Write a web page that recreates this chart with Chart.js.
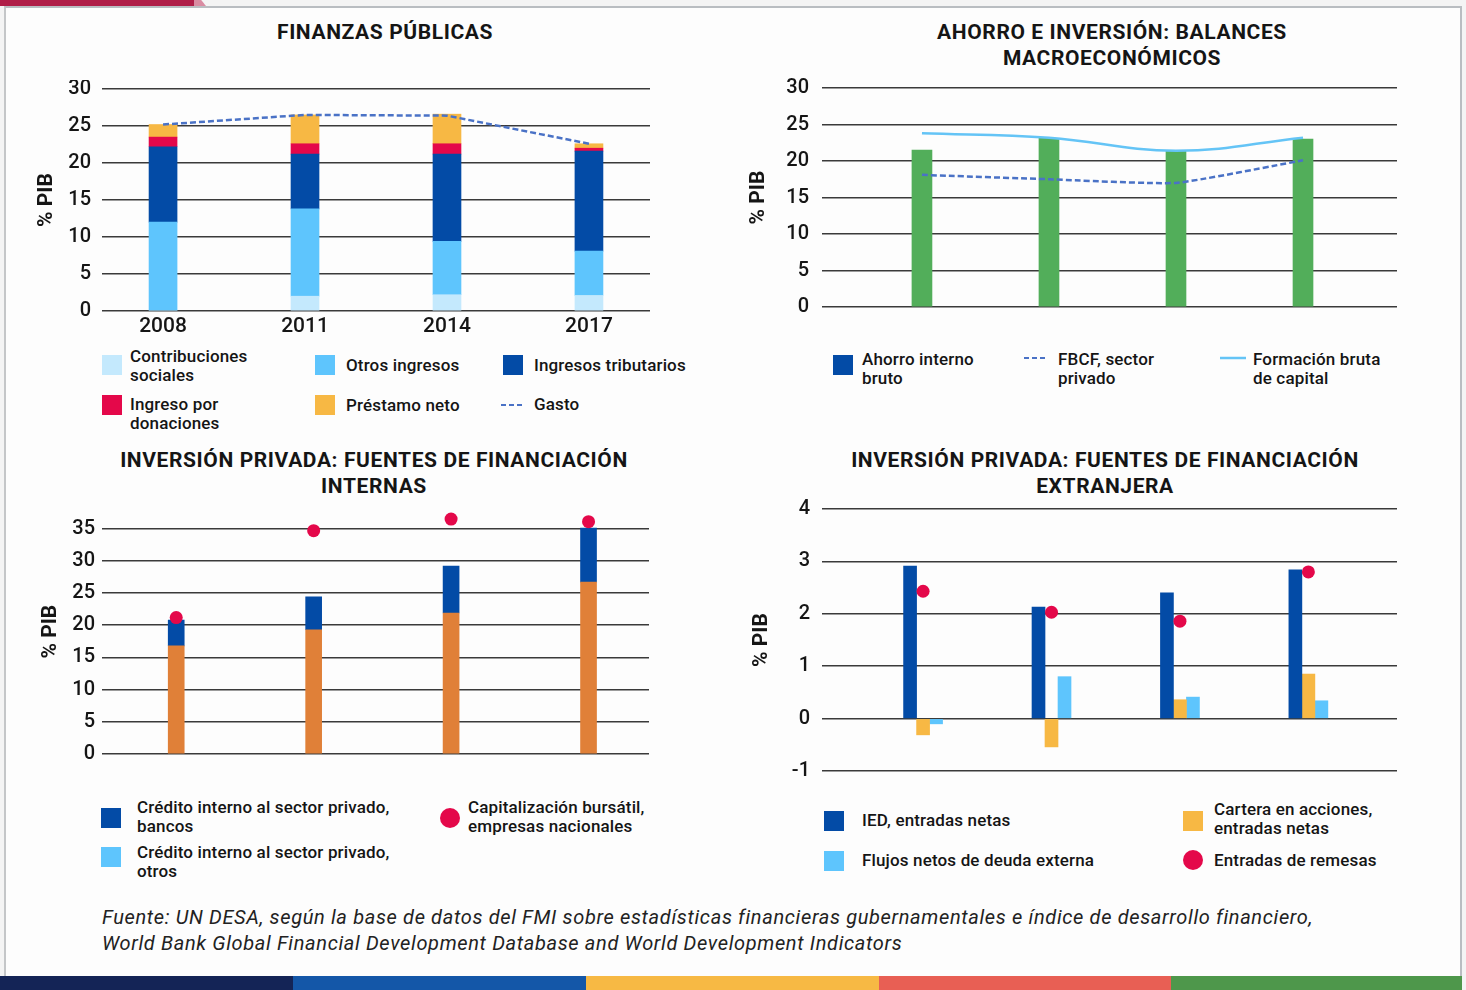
<!DOCTYPE html>
<html lang="es">
<head>
<meta charset="utf-8">
<title>Finanzas públicas e inversión privada</title>
<script src="https://cdn.jsdelivr.net/npm/chart.js@4.4.0/dist/chart.umd.min.js"></script>
<style>
  html, body { margin: 0; padding: 0; }
  body { width: 1466px; height: 990px; position: relative; overflow: hidden; background: #f4f4f4; font-family: Roboto, sans-serif; color: #151515; }
  .franja-roja { position: absolute; left: 0; top: 0; width: 194px; height: 6px; background: #b01e48; }
  .franja-rosa { position: absolute; left: 190px; top: 0; width: 16px; height: 6px; background: #d98ca2; clip-path: polygon(0 0, 70% 0, 100% 100%, 0 100%); }
  .tarjeta { position: absolute; left: 4px; top: 6px; width: 1454px; height: 972px; background: #fdfdfd; border-top: 2px solid #b9bdc1; border-left: 2px solid #c4c6c8; border-right: 2px solid #b9bdc1; }
  canvas { position: absolute; }
  .titulo { position: absolute; font-weight: 700; font-size: 21px; letter-spacing: 0.6px; line-height: 26px; text-align: center; transform: translateX(-50%); white-space: nowrap; }
  .ley { position: absolute; font-size: 17px; font-weight: 500; letter-spacing: 0.15px; line-height: 19px; white-space: nowrap; }
  .caja { position: absolute; width: 20px; height: 20px; }
  .punto { position: absolute; width: 20px; height: 20px; border-radius: 50%; background: #e4084a; }
  .fuente { position: absolute; left: 102px; top: 904px; font-size: 20px; letter-spacing: 0.65px; line-height: 26px; font-style: italic; color: #222; white-space: nowrap; }
  .barra-color { position: absolute; top: 976px; height: 14px; }
</style>
</head>
<body>
<div class="franja-rosa"></div>
<div class="franja-roja"></div>
<div class="tarjeta"></div>

<!-- Títulos -->
<div class="titulo" style="left:385px; top:19px;">FINANZAS PÚBLICAS</div>
<div class="titulo" style="left:1112px; top:19px;">AHORRO E INVERSIÓN: BALANCES<br>MACROECONÓMICOS</div>
<div class="titulo" style="left:374px; top:447px;">INVERSIÓN PRIVADA: FUENTES DE FINANCIACIÓN<br>INTERNAS</div>
<div class="titulo" style="left:1105px; top:447px;">INVERSIÓN PRIVADA: FUENTES DE FINANCIACIÓN<br>EXTRANJERA</div>

<canvas id="finanzasChart" width="630" height="265" style="left:30px; top:80px;"></canvas>
<canvas id="ahorroChart" width="668" height="250" style="left:742px; top:75px;"></canvas>
<canvas id="internasChart" width="626" height="275" style="left:34px; top:500px;"></canvas>
<canvas id="externaChart" width="665" height="290" style="left:745px; top:495px;"></canvas>

<!-- Leyenda: finanzas públicas -->
<div class="caja" style="left:102px; top:355px; background:#c4e9fd;"></div>
<div class="ley" style="left:130px; top:347px;">Contribuciones<br>sociales</div>
<div class="caja" style="left:315px; top:355px; background:#5ec5fd;"></div>
<div class="ley" style="left:346px; top:356px;">Otros ingresos</div>
<div class="caja" style="left:503px; top:355px; background:#034ba6;"></div>
<div class="ley" style="left:534px; top:356px;">Ingresos tributarios</div>
<div class="caja" style="left:102px; top:395px; background:#e4084a;"></div>
<div class="ley" style="left:130px; top:395px;">Ingreso por<br>donaciones</div>
<div class="caja" style="left:315px; top:395px; background:#f7b844;"></div>
<div class="ley" style="left:346px; top:396px;">Préstamo neto</div>
<svg style="position:absolute; left:501px; top:400px;" width="24" height="10"><line x1="0" y1="5" x2="24" y2="5" stroke="#4a72c6" stroke-width="2" stroke-dasharray="5 3"/></svg>
<div class="ley" style="left:534px; top:395px;">Gasto</div>

<!-- Leyenda: ahorro e inversión -->
<div class="caja" style="left:833px; top:355px; background:#034ba6;"></div>
<div class="ley" style="left:862px; top:350px;">Ahorro interno<br>bruto</div>
<svg style="position:absolute; left:1024px; top:353px;" width="24" height="10"><line x1="0" y1="5" x2="24" y2="5" stroke="#4a72c6" stroke-width="2" stroke-dasharray="5 3"/></svg>
<div class="ley" style="left:1058px; top:350px;">FBCF, sector<br>privado</div>
<svg style="position:absolute; left:1220px; top:353px;" width="26" height="10"><line x1="0" y1="5" x2="26" y2="5" stroke="#64c4f6" stroke-width="2.5"/></svg>
<div class="ley" style="left:1253px; top:350px;">Formación bruta<br>de capital</div>

<!-- Leyenda: fuentes internas -->
<div class="caja" style="left:101px; top:808px; background:#034ba6;"></div>
<div class="ley" style="left:137px; top:798px;">Crédito interno al sector privado,<br>bancos</div>
<div class="caja" style="left:101px; top:847px; background:#5ec5fd;"></div>
<div class="ley" style="left:137px; top:843px;">Crédito interno al sector privado,<br>otros</div>
<div class="punto" style="left:440px; top:808px;"></div>
<div class="ley" style="left:468px; top:798px;">Capitalización bursátil,<br>empresas nacionales</div>

<!-- Leyenda: fuentes extranjeras -->
<div class="caja" style="left:824px; top:811px; background:#034ba6;"></div>
<div class="ley" style="left:862px; top:811px;">IED, entradas netas</div>
<div class="caja" style="left:1183px; top:811px; background:#f7b844;"></div>
<div class="ley" style="left:1214px; top:800px;">Cartera en acciones,<br>entradas netas</div>
<div class="caja" style="left:824px; top:851px; background:#5ec5fd;"></div>
<div class="ley" style="left:862px; top:851px;">Flujos netos de deuda externa</div>
<div class="punto" style="left:1183px; top:850px;"></div>
<div class="ley" style="left:1214px; top:851px;">Entradas de remesas</div>

<div class="fuente">Fuente: UN DESA, según la base de datos del FMI sobre estadísticas financieras gubernamentales e índice de desarrollo financiero,<br>World Bank Global Financial Development Database and World Development Indicators</div>

<div class="barra-color" style="left:0; width:293px; background:#142456;"></div>
<div class="barra-color" style="left:293px; width:293px; background:#1457a8;"></div>
<div class="barra-color" style="left:586px; width:293px; background:#f7b944;"></div>
<div class="barra-color" style="left:879px; width:292px; background:#e85f54;"></div>
<div class="barra-color" style="left:1171px; width:291px; background:#4e974b;"></div>

<script>
// Datos (% del PIB)
const anios = ['2008', '2011', '2014', '2017'];

// Finanzas públicas
const contribSociales = [0, 2.0, 2.2, 2.1];
const otrosIngresos = [12.0, 11.8, 7.2, 6.0];
const ingresosTributarios = [10.2, 7.4, 11.8, 13.5];
const ingresoDonaciones = [1.3, 1.4, 1.4, 0.4];
const prestamoNeto = [1.7, 3.9, 4.0, 0.6];
const gasto = [25.2, 26.5, 26.4, 22.6];
const ticksFinanzas = [0, 5, 10, 15, 20, 25, 30];

// Ahorro e inversión
const ahorroInterno = [21.5, 23.1, 21.4, 23.0];
const fbcfPrivado = [18.1, 17.5, 17.0, 20.1];
const formacionBruta = [23.8, 23.2, 21.4, 23.2];
const ticksAhorro = [0, 5, 10, 15, 20, 25, 30];

// Fuentes de financiación internas
const creditoOtros = [16.8, 19.3, 21.9, 26.7];
const creditoBancos = [4.0, 5.1, 7.3, 8.4];
const capBursatil = [21.2, 34.7, 36.5, 36.1];
const ticksInternas = [0, 5, 10, 15, 20, 25, 30, 35];

// Fuentes de financiación extranjera
const ied = [2.91, 2.13, 2.40, 2.84];
const carteraAcciones = [-0.31, -0.54, 0.36, 0.85];
const deudaExterna = [-0.10, 0.80, 0.41, 0.34];
const remesas = [2.43, 2.03, 1.86, 2.80];
const ticksExterna = [-1, 0, 1, 2, 3, 4];

const FUENTE = 'Roboto';
const puntos = (serie) => serie.map((v, i) => ({ x: i, y: v }));

// Eje Y común: líneas de cuadrícula oscuras y título "% PIB"
function ejeY(ticks, anchoEje, padTicks, maximo) {
    return {
        min: ticks[0],
        max: maximo !== undefined ? maximo : ticks[ticks.length - 1],
        afterBuildTicks: (s) => { s.ticks = ticks.map(v => ({ value: v })); },
        afterFit: (s) => { s.width = anchoEje; s.paddingTop = 0; s.paddingBottom = 0; },
        grid: { color: '#3a3a3a', lineWidth: 1.6, drawTicks: false },
        border: { display: false },
        ticks: { color: '#151515', padding: padTicks, font: { family: FUENTE, size: 20, weight: 500 } },
        title: { display: true, text: '% PIB', color: '#151515', padding: { top: 4, bottom: 0 }, font: { family: FUENTE, size: 21, weight: 'bold' } }
    };
}

// Eje X lineal para poder ubicar las barras igual que en el original
function ejeX(min, max, alto, conEtiquetas) {
    return {
        type: 'linear',
        min: min,
        max: max,
        offset: false,
        afterBuildTicks: (s) => { s.ticks = anios.map((_, i) => ({ value: i })); },
        afterFit: (s) => { s.height = alto; s.paddingLeft = 0; s.paddingRight = 0; },
        grid: { display: false, drawTicks: false },
        border: { display: false },
        ticks: {
            display: conEtiquetas,
            padding: 3,
            color: '#151515',
            font: { family: FUENTE, size: 21, weight: 500 },
            callback: (v) => anios[v] || ''
        }
    };
}

const opcionesBase = {
    responsive: false,
    animation: false,
    plugins: { legend: { display: false }, tooltip: { enabled: false } }
};

function crearFinanzas() {
    const ctx = document.getElementById('finanzasChart').getContext('2d');
    const barra = (label, data, color) => ({
        type: 'bar', label, data: puntos(data), backgroundColor: color,
        barThickness: 28, stack: 'ingresos', order: 2
    });
    new Chart(ctx, {
        type: 'bar',
        data: {
            datasets: [
                {
                    type: 'line', label: 'Gasto', data: puntos(gasto), stack: 'gasto', order: 1,
                    borderColor: '#4a72c6', borderWidth: 2.5, borderDash: [6, 3], pointRadius: 0, tension: 0, fill: false
                },
                barra('Contribuciones sociales', contribSociales, '#c4e9fd'),
                barra('Otros ingresos', otrosIngresos, '#5ec5fd'),
                barra('Ingresos tributarios', ingresosTributarios, '#034ba6'),
                barra('Ingreso por donaciones', ingresoDonaciones, '#e4084a'),
                barra('Préstamo neto', prestamoNeto, '#f7b844')
            ]
        },
        options: {
            ...opcionesBase,
            layout: { padding: { top: 9, right: 10, left: 0, bottom: 0 } },
            scales: {
                x: ejeX(-0.43, 3.43, 34, true),
                y: { ...ejeY(ticksFinanzas, 72, 11), stacked: true }
            }
        }
    });
}

function crearAhorro() {
    const ctx = document.getElementById('ahorroChart').getContext('2d');
    new Chart(ctx, {
        type: 'bar',
        data: {
            datasets: [
                {
                    type: 'line', label: 'Formación bruta de capital', data: puntos(formacionBruta), order: 1,
                    borderColor: '#64c4f6', borderWidth: 2.5, pointRadius: 0, tension: 0.4, fill: false
                },
                {
                    type: 'line', label: 'FBCF, sector privado', data: puntos(fbcfPrivado), order: 1,
                    borderColor: '#4a72c6', borderWidth: 2.5, borderDash: [6, 3], pointRadius: 0, tension: 0.15, fill: false
                },
                {
                    type: 'bar', label: 'Ahorro interno bruto', data: puntos(ahorroInterno), order: 2,
                    backgroundColor: '#52ae5a', barThickness: 20
                }
            ]
        },
        options: {
            ...opcionesBase,
            layout: { padding: { top: 13, right: 13, left: 0, bottom: 0 } },
            scales: {
                x: ejeX(-0.787, 3.74, 18, false),
                y: ejeY(ticksAhorro, 80, 13)
            }
        }
    });
}

function crearInternas() {
    const ctx = document.getElementById('internasChart').getContext('2d');
    new Chart(ctx, {
        type: 'bar',
        data: {
            datasets: [
                {
                    type: 'line', label: 'Capitalización bursátil, empresas nacionales', data: puntos(capBursatil),
                    stack: 'capitalizacion', order: 1, showLine: false, clip: false,
                    pointRadius: 6.5, pointBackgroundColor: '#e4084a', pointBorderWidth: 0
                },
                {
                    type: 'bar', label: 'Crédito interno al sector privado, otros', data: puntos(creditoOtros),
                    backgroundColor: '#e08038', barThickness: 16, stack: 'credito', order: 2
                },
                {
                    type: 'bar', label: 'Crédito interno al sector privado, bancos', data: puntos(creditoBancos),
                    backgroundColor: '#034ba6', barThickness: 16, stack: 'credito', order: 2
                }
            ]
        },
        options: {
            ...opcionesBase,
            // el área llega hasta 38 para que se vean los puntos por encima de 35
            layout: { padding: { top: 9.4, right: 11, left: 0, bottom: 0 } },
            scales: {
                x: ejeX(-0.54, 3.44, 21, false),
                y: { ...ejeY(ticksInternas, 68, 7, 38), stacked: true }
            }
        }
    });
}

function crearExterna() {
    const ctx = document.getElementById('externaChart').getContext('2d');
    const barra = (label, data, color) => ({
        type: 'bar', label, data: puntos(data), backgroundColor: color, barThickness: 13, order: 2
    });
    new Chart(ctx, {
        type: 'bar',
        data: {
            datasets: [
                {
                    type: 'line', label: 'Entradas de remesas', data: puntos(remesas), order: 1,
                    showLine: false, clip: false,
                    pointRadius: 6.5, pointBackgroundColor: '#e4084a', pointBorderWidth: 0
                },
                barra('IED, entradas netas', ied, '#034ba6'),
                barra('Cartera en acciones, entradas netas', carteraAcciones, '#f7b844'),
                barra('Flujos netos de deuda externa', deudaExterna, '#5ec5fd')
            ]
        },
        options: {
            ...opcionesBase,
            layout: { padding: { top: 14, right: 13, left: 0, bottom: 0 } },
            scales: {
                x: ejeX(-0.787, 3.69, 14, false),
                y: ejeY(ticksExterna, 77, 12)
            }
        }
    });
}

crearFinanzas();
crearAhorro();
crearInternas();
crearExterna();
</script>
</body>
</html>
